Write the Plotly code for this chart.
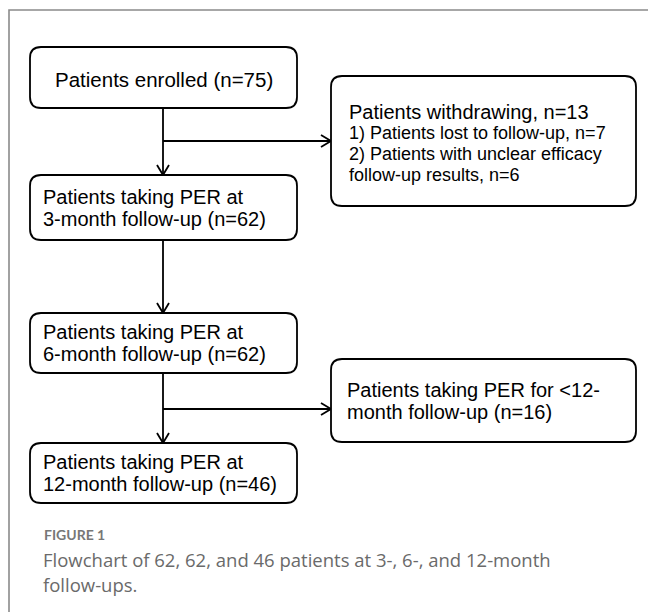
import plotly.graph_objects as go

# ---- data ----
enrolled_n = 75
withdrawn_n = 13
lost_n = 7
unclear_n = 6
followup_months = [3, 6, 12]
followup_n = [62, 62, 46]
under12_n = 16
caption_title = "FIGURE 1"
caption_lines = ["Flowchart of 62, 62, and 46 patients at 3-, 6-, and 12-month",
                 "follow-ups."]

W, H = 648, 612
BOX_FONT = "Liberation Sans, Arial, sans-serif"
CAP_FONT = "Open Sans, Lato, sans-serif"

fig = go.Figure()
shapes = []
annots = []
LW = 1.8


def rbox(x0, y0, x1, y1, r=11):
    p = (f"M {x0+r},{y0} L {x1-r},{y0} Q {x1},{y0} {x1},{y0+r} "
         f"L {x1},{y1-r} Q {x1},{y1} {x1-r},{y1} L {x0+r},{y1} "
         f"Q {x0},{y1} {x0},{y1-r} L {x0},{y0+r} Q {x0},{y0} {x0+r},{y0} Z")
    shapes.append(dict(type="path", path=p, line=dict(color="black", width=LW),
                       fillcolor="white", layer="above"))


def line(x0, y0, x1, y1):
    shapes.append(dict(type="line", x0=x0, y0=y0, x1=x1, y1=y1,
                       line=dict(color="black", width=LW)))


def arrow_down(x, y):
    shapes.append(dict(type="path", path=f"M {x-6},{y-10} L {x},{y} L {x+6},{y-10}",
                       line=dict(color="black", width=LW)))


def arrow_right(x, y):
    shapes.append(dict(type="path", path=f"M {x-10},{y-6} L {x},{y} L {x-10},{y+6}",
                       line=dict(color="black", width=LW)))


def text(x, y, s, size=20, anchor="left", color="black", font=BOX_FONT):
    annots.append(dict(x=x, y=y, text=s, showarrow=False, xanchor=anchor,
                       yanchor="middle", xref="x", yref="y",
                       font=dict(family=font, size=size, color=color)))


# frame border
shapes.append(dict(type="path", path=f"M 9,{H+5} L 9,10 L {W+5},10",
                   line=dict(color="#8a8a8a", width=1.6)))

LX0, LX1 = 30, 297
RX0, RX1 = 331, 636
CX = 163

# connectors
line(CX, 108, CX, 175); arrow_down(CX, 175)
line(CX, 141, RX0, 141); arrow_right(RX0, 141)
line(CX, 240, CX, 313); arrow_down(CX, 313)
line(CX, 373, CX, 443); arrow_down(CX, 443)
line(CX, 409, RX0, 409); arrow_right(RX0, 409)

# boxes
rbox(LX0, 47, LX1, 108)
text((LX0 + LX1) / 2, 79, f"Patients enrolled (n={enrolled_n})", size=20.5, anchor="center")

rbox(RX0, 76, RX1, 206)
text(347, 112, f"Patients withdrawing, n={withdrawn_n}", size=20)
text(347, 133, f"1) Patients lost to follow-up, n={lost_n}", size=18)
text(347, 154, "2) Patients with unclear efficacy", size=18)
text(347, 175, f"follow-up results, n={unclear_n}", size=18)

left_boxes = [(175, 240), (313, 373), (443, 503)]
for (y0, y1), m, n in zip(left_boxes, followup_months, followup_n):
    rbox(LX0, y0, LX1, y1)
    yc = (y0 + y1) / 2
    text(41, yc - 11, "Patients taking PER at")
    text(41, yc + 11, f"{m}-month follow-up (n={n})")

rbox(RX0, 359, RX1, 442)
text(345, 390, "Patients taking PER for <12-")
text(345, 412, f"month follow-up (n={under12_n})")

# caption
text(42, 534, f"<b>{caption_title}</b>", size=14, color="#777777",
     font="Lato, Open Sans, sans-serif")
text(41, 559, caption_lines[0], size=18.5, color="#6a6a6a", font=CAP_FONT)
text(41, 584, caption_lines[1], size=18.5, color="#6a6a6a", font=CAP_FONT)

fig.update_layout(
    width=W, height=H, margin=dict(l=0, r=0, t=0, b=0),
    paper_bgcolor="white", plot_bgcolor="white",
    xaxis=dict(range=[0, W], visible=False, fixedrange=True),
    yaxis=dict(range=[H, 0], visible=False, fixedrange=True),
    shapes=shapes, annotations=annots, showlegend=False,
)
fig.write_html("out.html", config={"displayModeBar": False},
               post_script="document.body.style.margin='0';document.body.style.overflow='hidden';")
